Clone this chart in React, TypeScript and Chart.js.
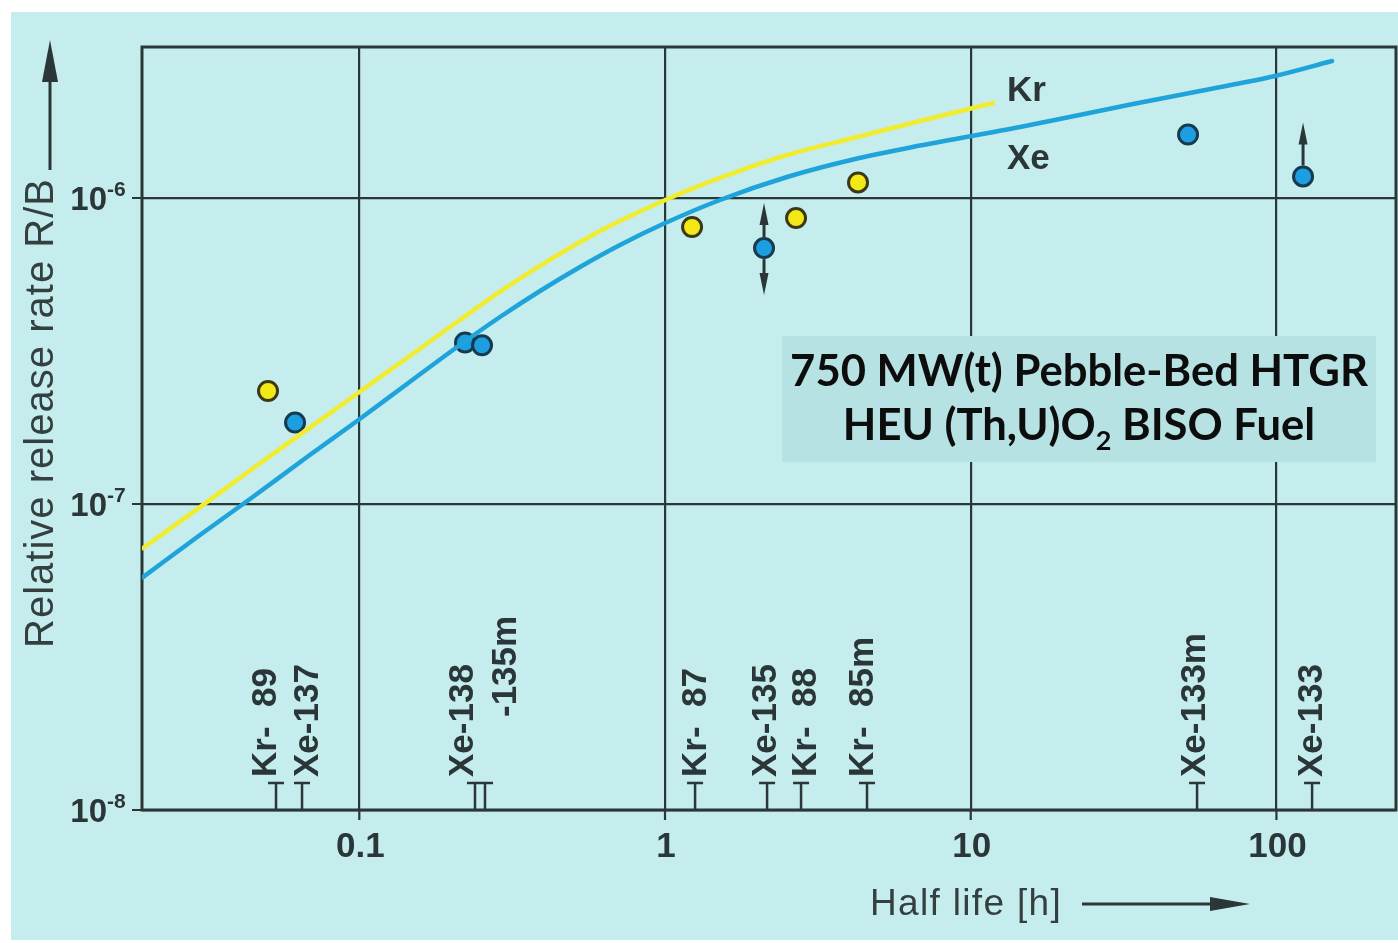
import React, { useEffect, useRef } from 'react';
import { Chart, registerables } from 'chart.js';

Chart.register(...registerables);

const W = 1398;
const H = 943;

// Axis limits: half life in hours, release rate R/B
const X_MIN = 0.01946;
const X_MAX = 246.1;
const Y_MIN = 1e-8;
const Y_MAX = 3.115e-6;
const X_TICKS = [0.1, 1, 10, 100];
const X_TICK_LABELS = ['0.1', '1', '10', '100'];
const Y_TICKS = [1e-8, 1e-7, 1e-6];
const Y_TICK_EXPONENTS = ['-8', '-7', '-6'];

// Calculated Kr release curve
const KR_CURVE_X = [0.01961, 0.03012, 0.0439, 0.06744, 0.09902, 0.1432, 0.2087, 0.3042, 0.4301, 0.613, 0.985, 1.513, 2.507, 4.121, 6.829, 11.83];
const KR_CURVE_Y = [7.18e-8, 9.77e-8, 1.287e-7, 1.751e-7, 2.305e-7, 3.0e-7, 3.934e-7, 5.12e-7, 6.37e-7, 7.8e-7, 9.78e-7, 1.163e-6, 1.382e-6, 1.571e-6, 1.785e-6, 2.044e-6];

// Calculated Xe release curve
const XE_CURVE_X = [0.01961, 0.03012, 0.0439, 0.06744, 0.09829, 0.1432, 0.2025, 0.2885, 0.3901, 0.5272, 0.7123, 0.985, 1.513, 2.507, 4.121, 6.829, 14.5, 33.96, 56.25, 98.95, 152];
const XE_CURVE_Y = [5.77e-8, 7.92e-8, 1.038e-7, 1.424e-7, 1.867e-7, 2.467e-7, 3.187e-7, 4.084e-7, 4.967e-7, 5.95e-7, 7.02e-7, 8.22e-7, 9.85e-7, 1.171e-6, 1.336e-6, 1.484e-6, 1.706e-6, 2.029e-6, 2.237e-6, 2.504e-6, 2.803e-6];

// Measured Kr isotopes (Kr-89, Kr-87, Kr-88, Kr-85m)
const KR_MEAS_X = [0.05028, 1.226, 2.683, 4.279];
const KR_MEAS_Y = [2.34e-7, 8.04e-7, 8.6e-7, 1.124e-6];

// Measured Xe isotopes (Xe-137, Xe-138, Xe-135m, Xe-135, Xe-133m, Xe-133)
const XE_MEAS_X = [0.06163, 0.2217, 0.252, 2.108, 51.39, 122.2];
const XE_MEAS_Y = [1.846e-7, 3.37e-7, 3.3e-7, 6.86e-7, 1.612e-6, 1.176e-6];
// Uncertainty markers on the Xe values: '' none, 'up' lower bound, 'both' range
const XE_MEAS_LIMIT = ['', '', '', 'both', '', 'up'];

// Isotope half-life markers along the time axis
const ISOTOPE_NAMES = ['Kr-  89', 'Xe-137', 'Xe-138', '-135m', 'Kr-  87', 'Xe-135', 'Kr-  88', 'Kr-  85m', 'Xe-133m', 'Xe-133'];
const ISOTOPE_HALF_LIFE = [0.0534, 0.06496, 0.239, 0.2577, 1.254, 2.157, 2.786, 4.579, 55.0, 130.8];

const TITLE_LINE1 = '750 MW(t) Pebble-Bed HTGR';
const TITLE_LINE2 = ['HEU (Th,U)O', '2', ' BISO Fuel'];

// Styling
const PANEL_BG = '#c6eded';
const BOX_BG = '#b7e2e3';
const INK = '#2a3637';
const KR_LINE = '#f1ec2e';
const XE_LINE = '#1ea3da';
const KR_FILL = '#f3e916';
const KR_EDGE = '#3b3918';
const XE_FILL = '#1c9fe0';
const XE_EDGE = '#173a4e';
const SANS = '"Liberation Sans", Arial, sans-serif';
// Per-label nudges [dx, dy] for the crowded isotope captions
const LABEL_NUDGE = [[-11, 0], [5, 0], [-13, 0], [20, -60], [0, 0], [-2, 0], [4, 0], [-5, 0], [-3, 0], [-1, 0]];

function spacedText(ctx: CanvasRenderingContext2D, text: string, x: number, y: number, target: number) {
  (ctx as any).letterSpacing = '0px';
  const w = ctx.measureText(text).width;
  const n = Array.from(text).length;
  (ctx as any).letterSpacing = `${(target - w) / n}px`;
  ctx.fillText(text, x, y);
  (ctx as any).letterSpacing = '0px';
}

function arrowHead(ctx: CanvasRenderingContext2D, x: number, tipY: number, dir: number, len: number, half: number) {
  ctx.beginPath();
  ctx.moveTo(x, tipY);
  ctx.lineTo(x - half, tipY - dir * len);
  ctx.lineTo(x + half, tipY - dir * len);
  ctx.closePath();
  ctx.fill();
}

const decor = {
  id: 'decor',
  beforeDraw(chart: any) {
    const { ctx, width, height } = chart;
    ctx.save();
    ctx.fillStyle = '#ffffff';
    ctx.fillRect(0, 0, width, height);
    ctx.fillStyle = PANEL_BG;
    ctx.fillRect(11, 12, width - 11, height - 15);
    ctx.restore();
  },
  beforeDatasetsDraw(chart: any) {
    const { ctx, chartArea: a, scales } = chart;
    const x = scales.x;
    const y = scales.y;
    ctx.save();
    ctx.strokeStyle = INK;
    ctx.lineWidth = 3;
    ctx.strokeRect(a.left, a.top, a.right - a.left, a.bottom - a.top);
    ctx.lineWidth = 2.2;
    ctx.beginPath();
    X_TICKS.forEach((v) => {
      const px = x.getPixelForValue(v);
      ctx.moveTo(px, a.bottom);
      ctx.lineTo(px, a.bottom + 10);
    });
    Y_TICKS.forEach((v) => {
      const py = y.getPixelForValue(v);
      ctx.moveTo(a.left - 10, py);
      ctx.lineTo(a.left, py);
    });
    ctx.stroke();
    ctx.lineWidth = 2.5;
    ctx.beginPath();
    ISOTOPE_HALF_LIFE.forEach((h) => {
      const px = x.getPixelForValue(h);
      ctx.moveTo(px, a.bottom);
      ctx.lineTo(px, a.bottom - 27);
      ctx.moveTo(px - 8, a.bottom - 27);
      ctx.lineTo(px + 8, a.bottom - 27);
    });
    ctx.stroke();
    ctx.restore();
  },
  afterDatasetsDraw(chart: any) {
    const { ctx, scales } = chart;
    const x = scales.x;
    const y = scales.y;
    ctx.save();
    ctx.strokeStyle = INK;
    ctx.fillStyle = INK;
    ctx.lineWidth = 3;
    XE_MEAS_LIMIT.forEach((lim, i) => {
      if (!lim) return;
      const px = x.getPixelForValue(XE_MEAS_X[i]);
      const py = y.getPixelForValue(XE_MEAS_Y[i]);
      const len = lim === 'up' ? 54 : 45;
      ctx.beginPath();
      ctx.moveTo(px, py - 11);
      ctx.lineTo(px, py - len + 12);
      ctx.stroke();
      arrowHead(ctx, px, py - len, -1, 22, 4.5);
      if (lim === 'both') {
        ctx.beginPath();
        ctx.moveTo(px, py + 11);
        ctx.lineTo(px, py + len - 12);
        ctx.stroke();
        arrowHead(ctx, px, py + len + 2, 1, 22, 4.5);
      }
    });
    ctx.restore();
  },
  afterDraw(chart: any) {
    const { ctx, chartArea: a, scales } = chart;
    const x = scales.x;
    const y = scales.y;
    ctx.save();
    ctx.fillStyle = INK;
    ctx.textBaseline = 'alphabetic';

    // Time axis labels
    ctx.font = `bold 35px ${SANS}`;
    ctx.textAlign = 'center';
    X_TICKS.forEach((v, i) => {
      ctx.fillText(X_TICK_LABELS[i], x.getPixelForValue(v) + 1, a.bottom + 47);
    });

    // Release rate labels as powers of ten
    Y_TICKS.forEach((v, i) => {
      const py = y.getPixelForValue(v);
      ctx.font = `bold 33px ${SANS}`;
      ctx.textAlign = 'right';
      ctx.fillText('10', 107, py + 12);
      ctx.font = `bold 21px ${SANS}`;
      ctx.textAlign = 'left';
      ctx.fillText(Y_TICK_EXPONENTS[i], 107, py - 2);
    });

    // Isotope captions, written upward from the axis
    ctx.font = `bold 35px ${SANS}`;
    ctx.textAlign = 'left';
    ctx.textBaseline = 'middle';
    ISOTOPE_NAMES.forEach((name, i) => {
      const px = x.getPixelForValue(ISOTOPE_HALF_LIFE[i]) + LABEL_NUDGE[i][0];
      const py = a.bottom - 33 + LABEL_NUDGE[i][1];
      ctx.save();
      ctx.translate(px, py);
      ctx.rotate(-Math.PI / 2);
      ctx.fillText(name, 0, 1);
      ctx.restore();
    });

    // Curve names
    ctx.textBaseline = 'alphabetic';
    ctx.font = `bold 35px ${SANS}`;
    ctx.fillText('Kr', 1007, 101);
    ctx.fillText('Xe', 1007, 169);

    // Axis titles with arrows
    ctx.fillStyle = '#34403f';
    ctx.font = `40px ${SANS}`;
    ctx.save();
    ctx.translate(53, 648);
    ctx.rotate(-Math.PI / 2);
    spacedText(ctx, 'Relative release rate R/B', 0, 0, 470);
    ctx.restore();
    ctx.font = `37px ${SANS}`;
    spacedText(ctx, 'Half life [h]', 870, 915, 192);

    ctx.strokeStyle = INK;
    ctx.fillStyle = INK;
    ctx.lineWidth = 3;
    ctx.beginPath();
    ctx.moveTo(50, 170);
    ctx.lineTo(50, 70);
    ctx.stroke();
    arrowHead(ctx, 50, 40, -1, 42, 8);
    ctx.beginPath();
    ctx.moveTo(1082, 904);
    ctx.lineTo(1220, 904);
    ctx.stroke();
    ctx.beginPath();
    ctx.moveTo(1250, 904);
    ctx.lineTo(1210, 897);
    ctx.lineTo(1210, 911);
    ctx.closePath();
    ctx.fill();

    // Reactor / fuel caption box
    ctx.fillStyle = BOX_BG;
    ctx.fillRect(782, 336, 594, 126);
    ctx.fillStyle = '#0d0d0d';
    let size = 41;
    ctx.font = `bold ${size}px Lato, "Open Sans", sans-serif`;
    const w1 = ctx.measureText(TITLE_LINE1).width;
    size = (size * 578) / w1;
    ctx.font = `bold ${size}px Lato, "Open Sans", sans-serif`;
    ctx.textAlign = 'center';
    ctx.fillText(TITLE_LINE1, 1079, 386);
    ctx.textAlign = 'left';
    const mainFont = `bold ${size}px Lato, "Open Sans", sans-serif`;
    const subFont = `bold ${size * 0.62}px Lato, "Open Sans", sans-serif`;
    ctx.font = mainFont;
    const wa = ctx.measureText(TITLE_LINE2[0]).width;
    const wc = ctx.measureText(TITLE_LINE2[2]).width;
    ctx.font = subFont;
    const wb = ctx.measureText(TITLE_LINE2[1]).width;
    let sx = 1079 - (wa + wb + wc) / 2;
    ctx.font = mainFont;
    ctx.fillText(TITLE_LINE2[0], sx, 440);
    sx += wa;
    ctx.font = subFont;
    ctx.fillText(TITLE_LINE2[1], sx, 450);
    sx += wb;
    ctx.font = mainFont;
    ctx.fillText(TITLE_LINE2[2], sx, 440);
    ctx.restore();
  },
};

export default function App() {
  const ref = useRef<HTMLCanvasElement>(null);

  useEffect(() => {
    const canvas = ref.current;
    if (!canvas) return;
    const pts = (xs: number[], ys: number[]) => xs.map((v, i) => ({ x: v, y: ys[i] }));
    const gridOpts = { color: INK, lineWidth: 2.2, drawTicks: false };
    const chart = new Chart(canvas, {
      type: 'scatter',
      data: {
        datasets: [
          {
            label: 'Kr',
            data: pts(KR_CURVE_X, KR_CURVE_Y),
            showLine: true,
            borderColor: KR_LINE,
            borderWidth: 4.5,
            borderCapStyle: 'round',
            pointRadius: 0,
            cubicInterpolationMode: 'monotone',
          },
          {
            label: 'Xe',
            data: pts(XE_CURVE_X, XE_CURVE_Y),
            showLine: true,
            borderColor: XE_LINE,
            borderWidth: 4.5,
            borderCapStyle: 'round',
            pointRadius: 0,
            cubicInterpolationMode: 'monotone',
          },
          {
            label: 'Kr measured',
            data: pts(KR_MEAS_X, KR_MEAS_Y),
            pointRadius: 9.5,
            pointBackgroundColor: KR_FILL,
            pointBorderColor: KR_EDGE,
            pointBorderWidth: 3,
          },
          {
            label: 'Xe measured',
            data: pts(XE_MEAS_X, XE_MEAS_Y),
            pointRadius: 9.5,
            pointBackgroundColor: XE_FILL,
            pointBorderColor: XE_EDGE,
            pointBorderWidth: 3,
          },
        ],
      },
      options: {
        responsive: false,
        animation: false,
        events: [],
        layout: { autoPadding: false, padding: { left: 142, top: 47, right: 2, bottom: 133 } },
        plugins: { legend: { display: false }, tooltip: { enabled: false } },
        scales: {
          x: {
            type: 'logarithmic',
            min: X_MIN,
            max: X_MAX,
            bounds: 'data',
            grid: gridOpts,
            border: { display: false },
            ticks: { display: false },
            afterBuildTicks: (s: any) => {
              s.ticks = X_TICKS.map((v) => ({ value: v }));
            },
          },
          y: {
            type: 'logarithmic',
            min: Y_MIN,
            max: Y_MAX,
            bounds: 'data',
            grid: gridOpts,
            border: { display: false },
            ticks: { display: false },
            afterBuildTicks: (s: any) => {
              s.ticks = Y_TICKS.map((v) => ({ value: v }));
            },
          },
        },
      } as any,
      plugins: [decor],
    });
    return () => chart.destroy();
  }, []);

  return (
    <div style={{ position: 'absolute', left: 0, top: 0, width: W, height: H }}>
      <canvas ref={ref} width={W} height={H} style={{ width: W, height: H, display: 'block' }} />
    </div>
  );
}
